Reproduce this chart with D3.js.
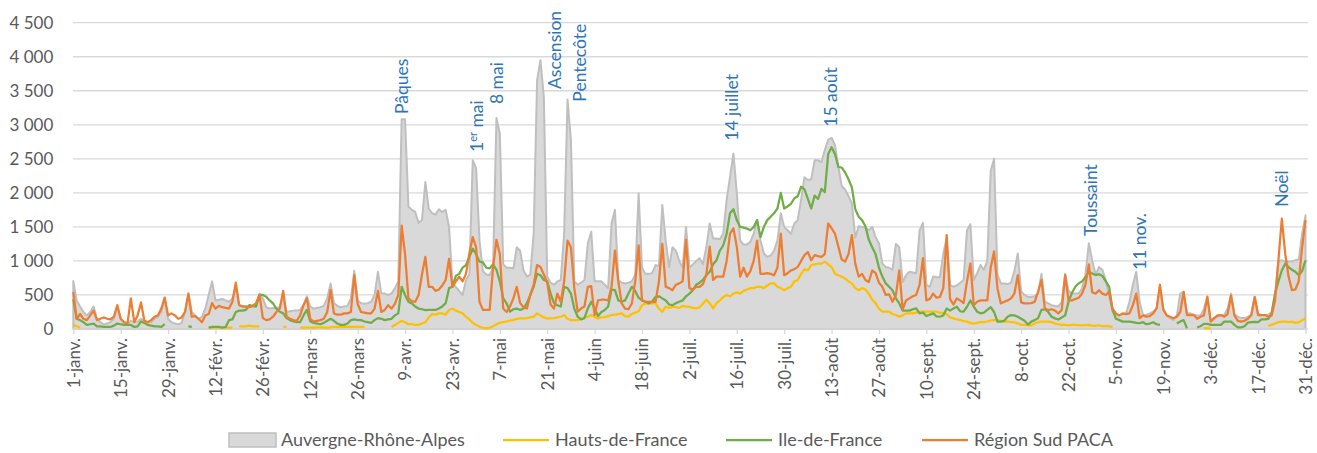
<!DOCTYPE html>
<html>
<head>
<meta charset="utf-8">
<script src="https://cdn.jsdelivr.net/npm/d3@7"></script>
<style>
  body { margin: 0; background: #fff; }
  text { font-family: Lato, "Open Sans", sans-serif; }
</style>
</head>
<body>
<div id="chart"></div>
<script>
const N = null;

// one value per day, 1 janv. -> 31 déc., rows of 7 days
const auvergne = [
  704, 420, 330, 250, 200, 250, 330,
  150, 100, 70, 80, 100, 150, 330,
  150, 100, 80, 120, 100, 110, 150,
  120, 100, 100, 150, 180, 250, 460,
  150, 100, 80, 70, 90, 250, 520,
  250, 200, 150, 180, 300, 500, 700,
  420, 430, 440, 420, 400, 450, 600,
  350, 340, 330, 330, 330, 350, 520,
  450, 320, 300, 310, 300, 330, 480,
  250, 260, 270, 270, 280, 350, 480,
  330, 300, 310, 320, 340, 450, 670,
  380, 340, 320, 330, 340, 450, 855,
  420, 380, 370, 380, 400, 500, 840,
  520, 520, 500, 520, 600, 700, 3080,
  3080, 1800, 1750, 1720, 1560, 1600, 2160,
  1770, 1700, 1680, 1760, 1720, 1750, 1500,
  670, 620, 560, 500, 720, 800, 2480,
  2360, 1300, 850, 800, 790, 900, 3100,
  2870, 950, 900, 900, 890, 1200, 1150,
  860, 770, 800, 1400, 3650, 3950, 3410,
  770, 680, 650, 700, 720, 1400, 3370,
  2780, 700, 650, 680, 720, 1260, 1430,
  700, 700, 700, 650, 600, 1550, 1750,
  720, 680, 670, 680, 700, 800, 1990,
  900, 810, 810, 820, 940, 920, 1820,
  1300, 910, 1200, 1150, 1000, 900, 1500,
  900, 950, 1000, 1040, 950, 1200, 1550,
  1330, 1330, 1320, 1400, 1900, 2230, 2580,
  2000, 1300, 1240, 1240, 1280, 1400, 1600,
  1300, 1110, 1060, 1080, 1150, 1300, 1700,
  1500, 1450, 1400, 1550, 1600, 1900, 2230,
  2190, 2200, 2480, 2480, 2450, 2630, 2780,
  2810, 2700, 2380, 2100, 2050, 1950, 1850,
  1340, 1510, 1500, 1490, 1450, 1500, 1350,
  1260, 960, 910, 900, 870, 1250, 1200,
  690, 790, 840, 830, 820, 1450, 1560,
  650, 620, 770, 760, 760, 1110, 1330,
  650, 620, 640, 680, 720, 1450, 1540,
  720, 820, 940, 870, 1000, 2320, 2500,
  800, 670, 670, 660, 680, 850, 1110,
  550, 500, 470, 470, 480, 520, 810,
  400, 376, 350, 340, 330, 400, 810,
  560, 520, 520, 520, 600, 800, 1260,
  1000, 800, 910, 870, 720, 470, 260,
  205, 200, 220, 230, 400, 650, 840,
  400, 205, 210, 230, 254, 300, 600,
  300, 200, 156, 130, 200, 520, 545,
  230, 230, 210, 200, 200, 300, 470,
  130, 150, 180, 200, 210, 300, 520,
  220, 180, 160, 160, 180, 210, 470,
  230, 205, 205, 210, 250, 500, 1000,
  1010, 990, 990, 990, 1010, 1020, 1400,
  1670
];

const hautsDeFrance = [
  60, 40, 20, N, N, N, N,
  N, N, N, N, N, N, N,
  N, N, N, N, N, N, N,
  N, N, N, N, N, N, N,
  N, N, N, N, N, N, N,
  N, N, N, N, N, 20, 20,
  20, 20, 20, 20, 20, 20, N,
  40, 40, 40, 50, 40, 40, 40,
  N, N, N, N, N, N, 30,
  30, N, N, N, 20, 20, 20,
  20, 20, 25, 25, 20, 20, 25,
  30, 30, 30, 30, 30, 30, 30,
  30, 30, 30, N, N, N, N,
  N, N, N, 30, 60, 90, 120,
  100, 70, 70, 60, 60, 80, 100,
  170, 220, 210, 230, 230, 210, 280,
  300, 270, 250, 230, 180, 140, 90,
  60, 35, 15, 10, 20, 40, 70,
  90, 100, 110, 125, 130, 150, 156,
  156, 160, 170, 180, 230, 200, 170,
  156, 156, 160, 170, 180, 205, 150,
  130, 130, 130, 150, 170, 180, 205,
  180, 156, 170, 175, 190, 205, 210,
  220, 230, 190, 180, 220, 240, 260,
  350, 376, 370, 376, 376, 300, 254,
  327, 310, 327, 320, 310, 340, 330,
  327, 310, 303, 320, 370, 430, 380,
  303, 380, 420, 470, 500, 480, 520,
  540, 520, 560, 580, 600, 600, 620,
  620, 600, 640, 670, 670, 620, 600,
  570, 600, 620, 700, 720, 810, 880,
  860, 940, 950, 960, 960, 990, 950,
  910, 810, 790, 770, 740, 700, 670,
  600, 570, 600, 580, 520, 430, 380,
  300, 254, 254, 254, 220, 205, 180,
  200, 230, 230, 230, 240, 254, 254,
  254, 254, 254, 254, 240, 235, 220,
  170, 156, 140, 130, 115, 108, 90,
  80, 90, 100, 100, 110, 125, 130,
  130, 120, 110, 110, 100, 100, 80,
  60, 60, 55, 55, 80, 100, 107,
  107, 107, 100, 80, 70, 60, 60,
  55, 60, 60, 58, 55, 58, 60,
  50, 45, 55, 40, 45, 40, 30,
  N, N, N, N, N, N, N,
  N, N, N, N, N, N, N,
  N, N, N, N, N, N, N,
  N, N, N, N, N, 12, 12,
  10, N, N, N, N, N, N,
  N, N, N, N, N, N, N,
  N, N, N, 45, 60, 80, 100,
  108, 110, 100, 108, 90, 100, 130,
  156
];

const ileDeFrance = [
  435, 150, 130, 100, 60, 70, 80,
  40, 40, 30, 30, 30, 50, 80,
  70, 60, 60, 60, 30, 40, 110,
  90, 60, 50, 40, 40, 30, 70,
  N, N, N, N, N, N, 40,
  30, N, N, N, N, 20, 30,
  30, 30, 20, 30, 130, 140, 250,
  270, 270, 280, 350, 340, 330, 500,
  500, 475, 420, 376, 300, 254, 230,
  160, 130, 110, 100, 100, 200, 280,
  110, 90, 80, 70, 90, 120, 150,
  120, 80, 60, 60, 80, 130, 140,
  130, 130, 110, 100, 90, 130, 160,
  150, 130, 140, 150, 200, 230, 620,
  500, 400, 376, 330, 300, 290, 278,
  280, 280, 280, 300, 330, 380, 600,
  620, 780, 810, 900, 940, 1060, 1180,
  1100, 990, 980, 900, 890, 950, 870,
  700, 450, 376, 254, 290, 300, 278,
  300, 380, 500, 620, 810, 790, 720,
  700, 520, 380, 350, 330, 620, 600,
  520, 300, 180, 140, 160, 303, 400,
  300, 190, 250, 278, 330, 580, 570,
  420, 400, 420, 520, 620, 560, 460,
  420, 400, 380, 400, 470, 480, 450,
  420, 360, 350, 380, 400, 420, 480,
  520, 570, 650, 680, 720, 790, 840,
  950, 1010, 1150, 1230, 1400, 1700, 1760,
  1600, 1500, 1490, 1475, 1450, 1500, 1600,
  1350, 1500, 1600, 1650, 1700, 1770, 2000,
  1770, 1800, 1840, 1920, 1950, 2090, 2050,
  1910, 1770, 1960, 1910, 2060, 2010, 2570,
  2670, 2570, 2380, 2370, 2300, 2200, 2080,
  1760, 1650, 1600, 1510, 1310, 1200, 1100,
  900, 770, 670, 620, 570, 450, 376,
  270, 270, 270, 290, 303, 230, 240,
  190, 210, 230, 185, 180, 200, 300,
  270, 300, 327, 260, 254, 327, 420,
  330, 254, 230, 240, 280, 320, 250,
  108, 108, 120, 180, 205, 200, 180,
  150, 120, 65, 108, 130, 160, 280,
  290, 250, 180, 156, 140, 170, 200,
  400, 530, 620, 670, 700, 760, 840,
  816, 792, 806, 780, 700, 620, 280,
  150, 130, 108, 107, 107, 100, 90,
  85, 100, 70, 80, 100, 70, 60,
  N, N, N, N, 80, 110, 130,
  10, N, N, 25, 40, 75, 75,
  60, 60, 60, 60, 108, 108, 110,
  60, 25, 25, 40, 95, 100, 105,
  100, 140, 140, 150, 230, 520, 700,
  860, 960, 910, 870, 840, 790, 850,
  1010
];

const sudPaca = [
  547, 150, 220, 150, 130, 200, 270,
  130, 150, 170, 150, 140, 180, 350,
  150, 100, 80, 450, 100, 200, 390,
  120, 100, 130, 180, 200, 300, 460,
  200, 230, 200, 150, 170, 250, 520,
  180, 190, 150, 100, 200, 220, 380,
  300, 340, 320, 310, 300, 400, 680,
  350, 330, 330, 320, 340, 380, 500,
  160, 130, 140, 180, 250, 300, 560,
  180, 150, 130, 120, 200, 350, 450,
  150, 110, 120, 130, 150, 250, 570,
  230, 210, 210, 230, 230, 250, 790,
  370, 250, 240, 230, 230, 300, 560,
  250, 280, 350, 300, 370, 500, 1520,
  1100, 450, 410, 400, 500, 800, 1060,
  620, 620, 560, 580, 640, 720, 1030,
  620, 700, 770, 700, 810, 1110, 1350,
  1200, 400, 280, 280, 280, 900, 1310,
  1100, 300, 250, 330, 450, 620, 380,
  320, 300, 500, 650, 940, 910, 800,
  680, 360, 300, 520, 400, 700, 1300,
  1200, 600, 254, 300, 330, 620, 630,
  205, 420, 430, 430, 420, 620, 1150,
  700, 376, 300, 290, 376, 700, 1230,
  420, 400, 400, 400, 400, 700, 1250,
  620, 600, 570, 650, 670, 700, 1310,
  600, 580, 620, 620, 660, 800, 1210,
  720, 770, 770, 770, 1000, 1400, 1480,
  1210, 770, 900, 770, 850, 1000, 1300,
  810, 810, 820, 810, 790, 900, 1400,
  790, 820, 860, 880, 910, 1000, 1085,
  1130, 1010, 1085, 1070, 1060, 1100, 1550,
  1480, 1400, 1210, 1020, 990, 1100, 1380,
  960, 770, 810, 720, 690, 860, 820,
  680, 620, 500, 510, 400, 500, 860,
  290, 420, 450, 480, 500, 650, 1040,
  420, 440, 520, 460, 470, 600, 1380,
  440, 360, 450, 420, 380, 700, 960,
  350, 400, 420, 420, 420, 900, 1140,
  600, 376, 400, 420, 450, 520, 790,
  390, 376, 376, 380, 400, 550, 720,
  300, 278, 290, 270, 230, 280, 790,
  420, 420, 440, 460, 520, 650, 950,
  540, 520, 570, 520, 500, 545, 300,
  230, 200, 230, 220, 230, 350, 520,
  160, 200, 180, 190, 230, 300, 650,
  280, 200, 180, 157, 180, 250, 545,
  205, 205, 205, 150, 180, 200, 475,
  108, 160, 200, 205, 180, 220, 490,
  200, 120, 108, 120, 150, 205, 470,
  205, 205, 205, 180, 200, 420, 1010,
  1620, 1110, 770, 570, 580, 700, 1200,
  1600
];

const tickLabels = ["1-janv.", "15-janv.", "29-janv.", "12-févr.", "26-févr.", "12-mars", "26-mars",
  "9-avr.", "23-avr.", "7-mai", "21-mai", "4-juin", "18-juin", "2-juil.", "16-juil.", "30-juil.",
  "13-août", "27-août", "10-sept.", "24-sept.", "8-oct.", "22-oct.", "5-nov.", "19-nov.",
  "3-déc.", "17-déc.", "31-déc."];
const tickDays = tickLabels.map((d, i) => i * 14);

const yTicks = [0, 500, 1000, 1500, 2000, 2500, 3000, 3500, 4000, 4500];
const yTickLabels = ["0", "500", "1 000", "1 500", "2 000", "2 500", "3 000", "3 500", "4 000", "4 500"];

// holiday labels: day where the text sits, value level of its lower end
const noteLabels = ["Pâques", "1|er| mai", "8 mai", "Ascension", "Pentecôte", "14 juillet", "15 août", "Toussaint", "11 nov.", "Noël"];
const noteDays = [98.9, 121.0, 126.9, 144.2, 151.6, 196.4, 225.6, 302.4, 317.0, 358.8];
const noteLevels = [3160, 2600, 3305, 3526, 3340, 2766, 2972, 1366, 867, 1797];

const seriesNames = ["Auvergne-Rhône-Alpes", "Hauts-de-France", "Ile-de-France", "Région Sud PACA"];
const seriesColors = ["#d9d9d9", "#ffc000", "#70ad47", "#ed7d31"];

const width = 1317, height = 453;
const svg = d3.select("#chart").append("svg")
    .attr("width", width)
    .attr("height", height);

const x = d3.scaleLinear().domain([0, 364]).range([73.3, 1305.5]);
const y = d3.scaleLinear().domain([0, 4500]).range([329, 22.7]);

// gridlines
svg.append("g")
    .selectAll("line")
    .data(yTicks.slice(1))
    .enter()
    .append("line")
    .attr("x1", 73).attr("x2", 1308)
    .attr("y1", d => y(d)).attr("y2", d => y(d))
    .attr("stroke", "#d9d9d9")
    .attr("stroke-width", 1.3);

// y axis labels
let yAxis = svg.append("g")
    .attr("transform", "translate(73,0)")
    .call(d3.axisLeft(y).tickValues(yTicks).tickFormat((d, i) => yTickLabels[i]).tickSize(0).tickPadding(19.7));
yAxis.select(".domain").remove();
yAxis.selectAll("text")
    .style("font-size", "17px")
    .style("font-family", "Lato, 'Open Sans', sans-serif")
    .attr("fill", "#595959");

// grey area
svg.append("path")
    .datum(auvergne)
    .attr("fill", "#d9d9d9")
    .attr("stroke", "#bfbfbf")
    .attr("stroke-width", 2)
    .attr("stroke-linejoin", "round")
    .attr("d", d3.area()
        .x((d, i) => x(i))
        .y0(y(0))
        .y1(d => y(d)));

// x axis
let xAxis = svg.append("g")
    .attr("transform", `translate(0,${y(0)})`)
    .call(d3.axisBottom(x).tickValues(tickDays).tickFormat((d, i) => tickLabels[i]).tickSize(5).tickSizeOuter(0));
xAxis.select(".domain").attr("stroke", "#d9d9d9").attr("stroke-width", 1.3).attr("d", "M73,0H1308");
xAxis.selectAll(".tick line").attr("stroke", "#d9d9d9").attr("stroke-width", 1.3);
xAxis.selectAll("text")
    .attr("transform", "rotate(-90)")
    .attr("x", -9)
    .attr("y", 0)
    .attr("dy", "0.35em")
    .style("text-anchor", "end")
    .style("font-size", "17px")
    .style("font-family", "Lato, 'Open Sans', sans-serif")
    .attr("fill", "#595959");

// lines
const line = d3.line()
    .defined(d => d != null)
    .x((d, i) => x(i))
    .y(d => y(d));

[[hautsDeFrance, seriesColors[1]], [ileDeFrance, seriesColors[2]], [sudPaca, seriesColors[3]]].forEach(function(s) {
    svg.append("path")
        .datum(s[0])
        .attr("fill", "none")
        .attr("stroke", s[1])
        .attr("stroke-width", 2.25)
        .attr("stroke-linejoin", "round")
        .attr("d", line);
});

// holiday labels
noteLabels.forEach(function(label, i) {
    let t = svg.append("text")
        .attr("transform", `translate(${x(noteDays[i])},${y(noteLevels[i])}) rotate(-90)`)
        .attr("fill", "#2e75b6")
        .style("font-size", "17.5px");
    label.split("|").forEach(function(part, j) {
        t.append("tspan")
            .text(part)
            .attr("baseline-shift", j == 1 ? "super" : null)
            .style("font-size", j == 1 ? "11px" : null);
    });
});

// legend
const legendX = [229, 503, 726, 922];
let legend = svg.append("g").attr("transform", "translate(0,440)");
seriesNames.forEach(function(name, i) {
    if (i == 0) {
        legend.append("rect")
            .attr("x", legendX[i]).attr("y", -7)
            .attr("width", 47).attr("height", 14)
            .attr("fill", "#d9d9d9")
            .attr("stroke", "#bfbfbf")
            .attr("stroke-width", 1.5);
    } else {
        legend.append("line")
            .attr("x1", legendX[i]).attr("x2", legendX[i] + 46)
            .attr("y1", 0).attr("y2", 0)
            .attr("stroke", seriesColors[i])
            .attr("stroke-width", 2.25);
    }
    legend.append("text")
        .attr("x", legendX[i] + 52)
        .attr("y", 0)
        .attr("dy", "0.35em")
        .attr("fill", "#595959")
        .style("font-size", "18px")
        .text(name);
});
</script>
</body>
</html>
